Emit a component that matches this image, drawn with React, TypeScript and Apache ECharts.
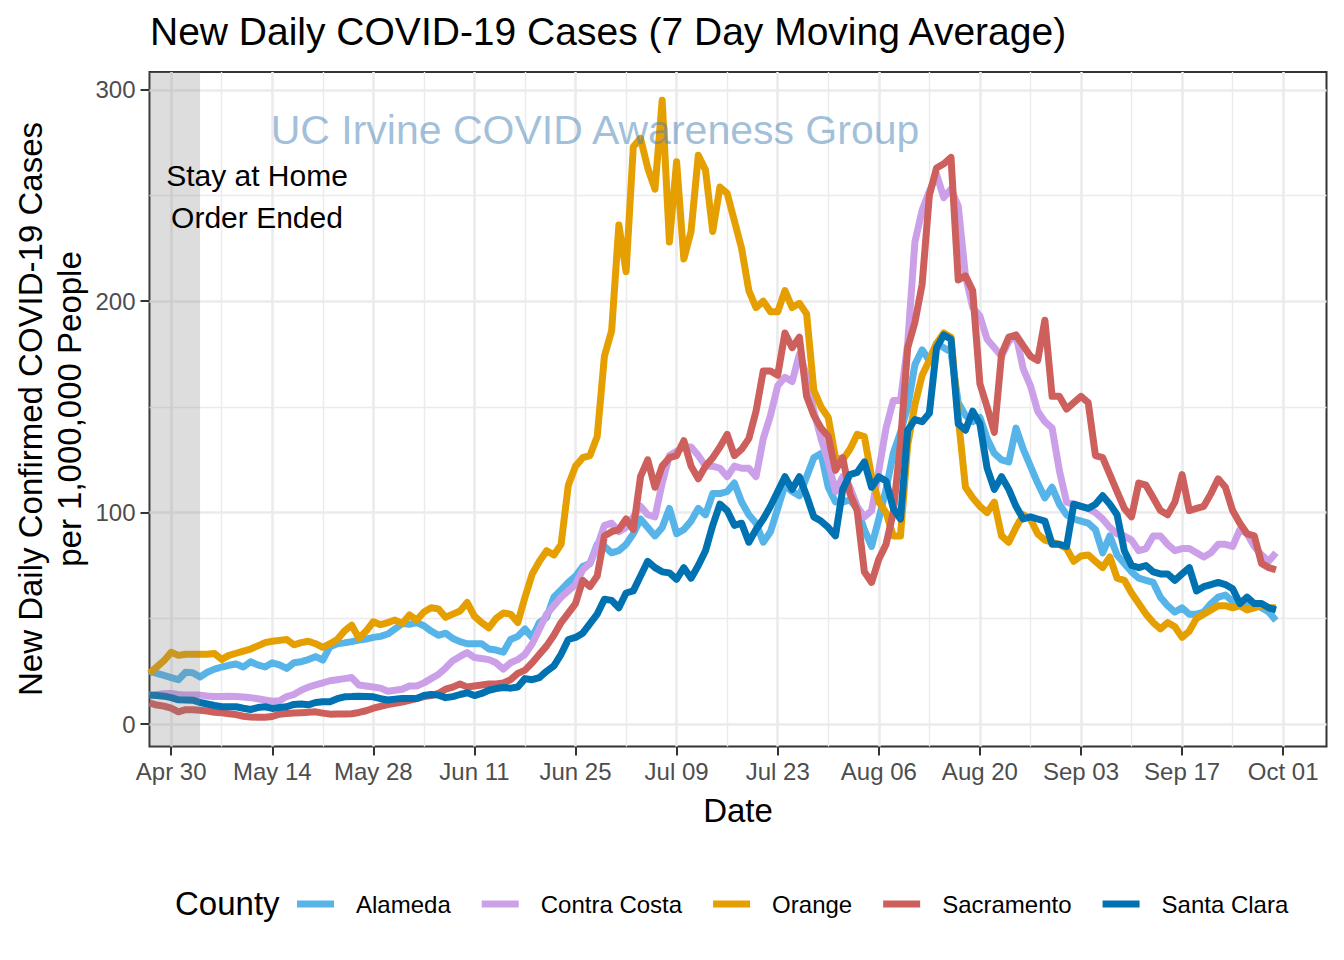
import React, { useEffect, useRef } from 'react';
import * as echarts from 'echarts';

// x positions are days counted from Apr 30, 2020; the series start on Apr 27 (day -3)
const FIRST_DAY = -3;
const X_MIN = -3;   // Apr 27
const X_MAX = 160;  // Oct 07
const tickDays = [0, 14, 28, 42, 56, 70, 84, 98, 112, 126, 140, 154];
const tickLabels = ['Apr 30', 'May 14', 'May 28', 'Jun 11', 'Jun 25', 'Jul 09', 'Jul 23', 'Aug 06', 'Aug 20', 'Sep 03', 'Sep 17', 'Oct 01'];
const minorDays = [7, 21, 35, 49, 63, 77, 91, 105, 119, 133, 147];
const yMajor = [0, 100, 200, 300];
const yMinor = [50, 150, 250];
const stayHomeEnd = [-3, 4];

const counties = ['Alameda', 'Contra Costa', 'Orange', 'Sacramento', 'Santa Clara'];
const colors = ['#56B4E9', '#CBA0E8', '#E69F00', '#CD5F5C', '#0072B2'];

const alameda = [
  25, 24, 23, 22, 21, 24.5, 24.3, 22.3, 24.5, 26,
  27, 27.8, 28.4, 27, 29.5, 28, 27, 29, 28, 26.3,
  29, 29.5, 30.5, 31.9, 30.3, 36.6, 38, 38.4, 39, 39.7,
  40.2, 41, 41.5, 42.6, 45, 47.6, 47.2, 48, 46.5, 44,
  42, 43, 40.5, 39, 38, 38, 38, 35.5, 35, 34,
  40, 41.5, 45, 41, 48, 50.5, 60, 63.5, 67, 70,
  74.5, 76, 85, 84, 81, 82, 85, 90, 97, 93,
  89, 93, 102, 90, 92, 96, 102, 99, 109, 109,
  110, 114, 105, 99, 95, 86, 91, 102, 113, 110,
  108, 117, 126, 128, 112, 105, 105, 106, 102, 92,
  84, 97, 111, 128, 138, 150, 170, 177, 172, 180,
  178, 176, 152, 146, 143, 145, 135, 128, 125, 124,
  140, 130, 122, 114, 107, 112, 104, 99, 97, 96,
  95, 92, 81, 89, 80, 76, 72, 69, 68, 67,
  60, 56, 53, 55, 52, 52, 53, 57, 60, 61,
  58, 56, 56, 57, 55, 53, 49,
];

const contraCosta = [
  13.7, 14, 14.3, 14.5, 14, 13.7, 13.7, 13.7, 13.3, 13,
  13, 13.2, 13, 12.8, 12.5, 12, 11.4, 10.8, 11, 13,
  14, 16, 17.5, 18.5, 19.5, 20.5, 21, 21.5, 22, 18.5,
  18, 17.5, 17, 15.5, 16, 16.5, 18, 18, 19.5, 21.5,
  23.5, 26.5, 30, 32, 33.8, 31.5, 31, 30.5, 29, 26,
  29, 30.5, 33, 38, 45, 52, 56, 60, 63, 66,
  73, 76, 84, 94, 95, 91, 93, 98, 103, 99,
  98, 114, 127, 129, 131, 131, 127, 122, 122, 121,
  117, 122, 121, 121, 117, 135, 146, 160, 164, 162,
  175, 165, 148, 135, 124, 110, 117, 112, 103, 98,
  101, 120, 140, 153, 153, 180, 228, 243, 252, 260,
  249, 253, 245, 212, 197, 193, 182, 178, 174, 181,
  184, 168, 160, 148, 143, 140, 120, 105, 104, 103,
  102, 100, 97, 93, 90, 89, 87, 82, 83, 89,
  89, 85, 82, 83, 83, 81, 79, 81, 85, 85,
  84, 92, 90, 84, 80, 77, 81,
];

const orange = [
  24, 27, 30, 34, 32.5, 33, 33, 33, 33, 33.4,
  30.6, 32.5, 33.5, 34.5, 35.5, 37, 38.5, 39.2, 39.6, 40,
  37.5, 38.5, 39.2, 38, 36.3, 38, 40, 44, 46.8, 40.5,
  44, 48.4, 47, 48, 49.2, 47.6, 51.6, 49.2, 53, 55,
  54.5, 50.5, 52, 53.5, 57.5, 51, 48, 45.5, 50, 52.5,
  52, 48, 60, 71, 77, 82, 80, 85, 113, 122,
  126, 127, 136, 174, 186, 236, 214, 273, 277, 263,
  253, 295, 228, 266, 220, 233, 269, 262, 233, 254,
  251, 238, 225, 205, 197, 200, 195, 195, 205, 197,
  199, 194, 158, 150, 145, 126, 125, 130, 137, 136,
  117, 105, 100, 89, 89, 132, 151, 165, 172, 180,
  185, 183, 145, 112, 107, 103, 100, 105, 89, 86,
  93, 99, 97, 90, 87, 86, 85, 83, 77, 79.5,
  80, 77, 74, 79, 69, 68, 62, 57, 52, 48,
  45, 48, 46, 41, 44, 50, 52, 54, 56, 56,
  55, 56, 54, 55, 56, 55, 55,
];

const sacramento = [
  10, 9, 8.5, 7.5, 5.8, 6.8, 6.8, 6.5, 6.2, 5.6,
  5.3, 4.9, 4.5, 3.7, 3.4, 3.2, 3.2, 3.6, 4.7, 5,
  5.2, 5.4, 5.6, 5.8, 5.2, 4.7, 4.8, 4.8, 4.9, 5.5,
  6.3, 7.5, 8.4, 9.2, 9.8, 10.4, 11.2, 12, 13, 13.5,
  14.5, 16.5, 17.5, 19, 17.5, 18, 18.5, 19, 19, 19.5,
  21, 24, 25.5, 29, 33, 37, 42, 48, 52.5, 57,
  68, 65, 70, 89, 91, 92, 97, 92, 117, 125,
  112, 122, 126, 127, 134, 122, 116, 122, 126, 131,
  137, 127, 130, 135, 148, 167, 167, 165, 185, 178,
  183, 155, 146, 140, 136, 120, 126, 109, 101, 72,
  67, 78, 85, 100, 133, 178, 190, 208, 250, 263,
  265, 268, 210, 212, 205, 161, 150, 138, 175, 183,
  184, 179, 174, 172, 191, 155, 155, 149, 152, 155,
  152, 127, 126, 118, 110, 102, 98, 114, 113, 107,
  101, 99, 105, 118, 101, 102, 103, 109, 116, 112,
  101, 95, 90, 89, 76, 74, 73,
];

const santaClara = [
  13.7, 13.5, 13.2, 12.5, 11.5, 11.4, 11.3, 10.2, 9.5, 8.8,
  8.2, 8.2, 8.2, 7.5, 6.9, 7.8, 8.2, 7.4, 7.8, 8.2,
  9.3, 9.5, 9.1, 10.2, 10.6, 10.6, 12, 12.9, 13, 13.2,
  13.1, 12.9, 12, 11.4, 11.8, 12.1, 12.1, 12.1, 13.5, 14,
  13.7, 12.5, 13, 14, 14.8, 13.5, 14.5, 16, 16.8, 17.3,
  17, 17.5, 21.5, 21, 22, 25, 27.5, 33, 40, 41,
  43, 47.5, 52, 59, 58.5, 55, 62, 63, 70, 77,
  74, 72, 71.5, 68.5, 74, 69, 75, 82, 94, 104,
  101, 94, 95, 86, 92, 97, 103, 110, 117, 111,
  117, 108, 98, 96, 93, 89, 111, 118, 119, 124,
  112, 117, 115, 102, 97, 139, 144, 143, 147, 178,
  184, 182, 142, 139, 148, 142, 121, 111, 117, 111,
  103, 97, 98, 97, 96, 85, 85, 84, 104, 103,
  102, 104, 108, 104, 99, 82, 75, 74, 75, 72,
  71, 71, 68, 71, 74, 63, 65, 66, 67, 66,
  64, 57, 60, 57, 57, 55, 54,
];

const seriesValues = [alameda, contraCosta, orange, sacramento, santaClara];

const FONT = '"Liberation Sans", Arial, Helvetica, sans-serif';

export default function App() {
  const ref = useRef<HTMLDivElement>(null);

  useEffect(() => {
    if (!ref.current) return;
    const chart = echarts.init(ref.current, null, { renderer: 'svg' });

    const gridLines: any[] = [];
    tickDays.forEach((d) => gridLines.push({ xAxis: d, lineStyle: { color: '#EBEBEB', width: 2.6, type: 'solid' } }));
    minorDays.forEach((d) => gridLines.push({ xAxis: d, lineStyle: { color: '#EBEBEB', width: 1.4, type: 'solid' } }));
    yMajor.forEach((v) => gridLines.push({ yAxis: v, lineStyle: { color: '#EBEBEB', width: 2.6, type: 'solid' } }));
    yMinor.forEach((v) => gridLines.push({ yAxis: v, lineStyle: { color: '#EBEBEB', width: 1.4, type: 'solid' } }));

    const lineSeries = counties.map((name, k) => ({
      type: 'line',
      name,
      data: seriesValues[k].map((v, i) => [FIRST_DAY + i, v]),
      showSymbol: false,
      symbol: 'none',
      silent: true,
      z: 3,
      itemStyle: { color: colors[k] },
      lineStyle: { color: colors[k], width: 7, join: 'round', cap: 'butt' },
    }));

    const option: any = {
      animation: false,
      backgroundColor: '#FFFFFF',
      title: {
        text: 'New Daily COVID-19 Cases (7 Day Moving Average)',
        left: 145,
        top: 7,
        textStyle: { fontFamily: FONT, fontSize: 39, fontWeight: 'normal', color: '#000000' },
      },
      grid: {
        left: 149.5,
        right: 17.5,
        top: 72,
        bottom: 213.5,
        show: true,
        backgroundColor: '#FFFFFF',
        borderColor: '#333333',
        borderWidth: 2,
        containLabel: false,
      },
      xAxis: {
        type: 'value',
        min: X_MIN,
        max: X_MAX,
        axisLine: { show: false, onZero: false },
        splitLine: { show: false },
        axisTick: { show: true, customValues: tickDays, length: 9, lineStyle: { color: '#333333', width: 2 } },
        axisLabel: {
          customValues: tickDays,
          margin: 13,
          fontFamily: FONT,
          fontSize: 24,
          color: '#4D4D4D',
          formatter: (v: number) => {
            const i = tickDays.indexOf(Math.round(v));
            return i >= 0 ? tickLabels[i] : '';
          },
        },
      },
      yAxis: {
        type: 'value',
        min: -10.6,
        max: 308.4,
        axisLine: { show: false, onZero: false },
        splitLine: { show: false },
        axisTick: { show: true, customValues: yMajor, length: 9, lineStyle: { color: '#333333', width: 2 } },
        axisLabel: {
          customValues: yMajor,
          margin: 14,
          fontFamily: FONT,
          fontSize: 24,
          color: '#4D4D4D',
        },
      },
      legend: {
        data: counties,
        left: 292,
        top: 887,
        icon: 'rect',
        itemWidth: 37,
        itemHeight: 7,
        itemGap: 31,
        selectedMode: false,
        textStyle: { fontFamily: FONT, fontSize: 24, color: '#000000', padding: [0, 0, 0, 17] },
      },
      series: [
        {
          type: 'line',
          name: '__grid',
          data: [],
          silent: true,
          markLine: {
            silent: true,
            z: 1,
            symbol: ['none', 'none'],
            label: { show: false },
            emphasis: { disabled: true },
            data: gridLines,
          },
        },
        ...lineSeries,
        {
          type: 'line',
          name: '__shade',
          data: [],
          silent: true,
          markArea: {
            silent: true,
            z: 6,
            itemStyle: { color: 'rgba(128,128,128,0.27)' },
            emphasis: { disabled: true },
            data: [[{ xAxis: stayHomeEnd[0] }, { xAxis: stayHomeEnd[1] }]],
          },
        },
      ],
      graphic: [
        {
          type: 'text',
          left: 175,
          top: 887,
          z: 100,
          style: { text: 'County', font: `33px ${FONT}`, fill: '#000000' },
        },
        {
          type: 'text',
          x: 50,
          y: 409,
          rotation: Math.PI / 2,
          z: 100,
          style: {
            text: 'New Daily Confirmed COVID-19 Cases\nper 1,000,000 People',
            font: `33px ${FONT}`,
            lineHeight: 39,
            fill: '#000000',
            align: 'center',
            verticalAlign: 'middle',
          },
        },
        {
          type: 'text',
          x: 738,
          y: 810,
          z: 100,
          style: { text: 'Date', font: `33px ${FONT}`, fill: '#000000', align: 'center', verticalAlign: 'middle' },
        },
        {
          type: 'text',
          x: 595,
          y: 130,
          z: 100,
          style: {
            text: 'UC Irvine COVID Awareness Group',
            font: `41px ${FONT}`,
            fill: 'rgba(70,130,180,0.5)',
            align: 'center',
            verticalAlign: 'middle',
          },
        },
        {
          type: 'text',
          x: 257,
          y: 196,
          z: 100,
          style: {
            text: 'Stay at Home\nOrder Ended',
            font: `30px ${FONT}`,
            lineHeight: 42,
            fill: '#000000',
            align: 'center',
            verticalAlign: 'middle',
          },
        },
      ],
    };

    chart.setOption(option);
    return () => chart.dispose();
  }, []);

  return (
    <div
      ref={ref}
      style={{ position: 'absolute', left: 0, top: 0, width: 1344, height: 960, background: '#FFFFFF' }}
    />
  );
}
